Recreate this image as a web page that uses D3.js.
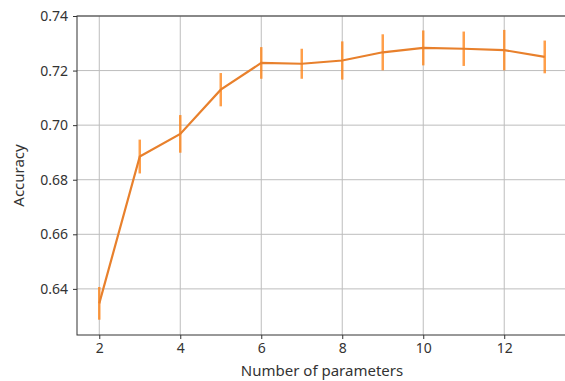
<!DOCTYPE html>
<html>
<head>
<meta charset="utf-8">
<script src="https://cdn.jsdelivr.net/npm/d3@7"></script>
<style>
  body { margin: 0; background: #fff; }
  svg { font-family: "Noto Sans", sans-serif; }
</style>
</head>
<body>
<svg id="chart"></svg>
<script>
// values
const nParams = [2, 3, 4, 5, 6, 7, 8, 9, 10, 11, 12, 13];
const accuracy = [0.6347, 0.6885, 0.6968, 0.7130, 0.7228, 0.7225, 0.7237, 0.7267, 0.7283, 0.7280, 0.7275, 0.7250];
const accErr = [0.0060, 0.0062, 0.0069, 0.0061, 0.0058, 0.0055, 0.0070, 0.0066, 0.0064, 0.0063, 0.0074, 0.0060];
const xTicks = [2, 4, 6, 8, 10, 12];
const yTicks = [0.64, 0.66, 0.68, 0.70, 0.72, 0.74];

const width = 565, height = 381;
const margin = { top: 16, right: -2, bottom: 46, left: 77 };
const font = '"Noto Sans", sans-serif';

const svg = d3.select('#chart').attr('width', width).attr('height', height);

const x = d3.scaleLinear().domain([1.45, 13.55]).range([margin.left, width - margin.right]);
const y = d3.scaleLinear().domain([0.6231, 0.74]).range([height - margin.bottom, margin.top]);

// grid
svg.append('g').selectAll('line').data(xTicks).join('line')
  .attr('x1', d => x(d)).attr('x2', d => x(d))
  .attr('y1', y.range()[0]).attr('y2', y.range()[1])
  .attr('stroke', '#bdbdbd').attr('stroke-width', 1);
svg.append('g').selectAll('line').data(yTicks).join('line')
  .attr('x1', x.range()[0]).attr('x2', x.range()[1])
  .attr('y1', d => y(d)).attr('y2', d => y(d))
  .attr('stroke', '#bdbdbd').attr('stroke-width', 1);

// axes
const xAxis = svg.append('g')
  .attr('transform', `translate(0,${height - margin.bottom})`)
  .call(d3.axisBottom(x).tickValues(xTicks).tickSize(4).tickPadding(4).tickFormat(d3.format('d')));
const yAxis = svg.append('g')
  .attr('transform', `translate(${margin.left},0)`)
  .call(d3.axisLeft(y).tickValues(yTicks).tickSize(4).tickPadding(5).tickFormat(d3.format('.2f')));

[xAxis, yAxis].forEach(a => {
  a.select('.domain').remove();
  a.selectAll('.tick line').attr('stroke', '#333');
  a.selectAll('.tick text').attr('fill', '#333').style('font-size', '14px')
    .style('font-family', font);
});

// spines
svg.append('rect')
  .attr('x', x.range()[0]).attr('y', y.range()[1])
  .attr('width', x.range()[1] - x.range()[0])
  .attr('height', y.range()[0] - y.range()[1])
  .attr('fill', 'none').attr('stroke', '#333').attr('stroke-width', 1);

// error bars
svg.append('g').selectAll('line').data(nParams).join('line')
  .attr('x1', d => x(d)).attr('x2', d => x(d))
  .attr('y1', (d, i) => y(accuracy[i] - accErr[i]))
  .attr('y2', (d, i) => y(accuracy[i] + accErr[i]))
  .attr('stroke', '#ff7f0e').attr('stroke-opacity', 0.75).attr('stroke-width', 2.5);

// mean line
const line = d3.line().x(d => x(d[0])).y(d => y(d[1]));
svg.append('path')
  .datum(nParams.map((d, i) => [d, accuracy[i]]))
  .attr('fill', 'none').attr('stroke', '#e8802c').attr('stroke-width', 2.2)
  .attr('d', line);

// labels
svg.append('text')
  .attr('x', 322).attr('y', 376)
  .attr('text-anchor', 'middle').attr('fill', '#333').style('font-size', '15px')
  .text('Number of parameters');
svg.append('text')
  .attr('transform', `translate(24,${(y.range()[0] + y.range()[1]) / 2}) rotate(-90)`)
  .attr('text-anchor', 'middle').attr('fill', '#333').style('font-size', '15px')
  .text('Accuracy');
</script>
</body>
</html>
